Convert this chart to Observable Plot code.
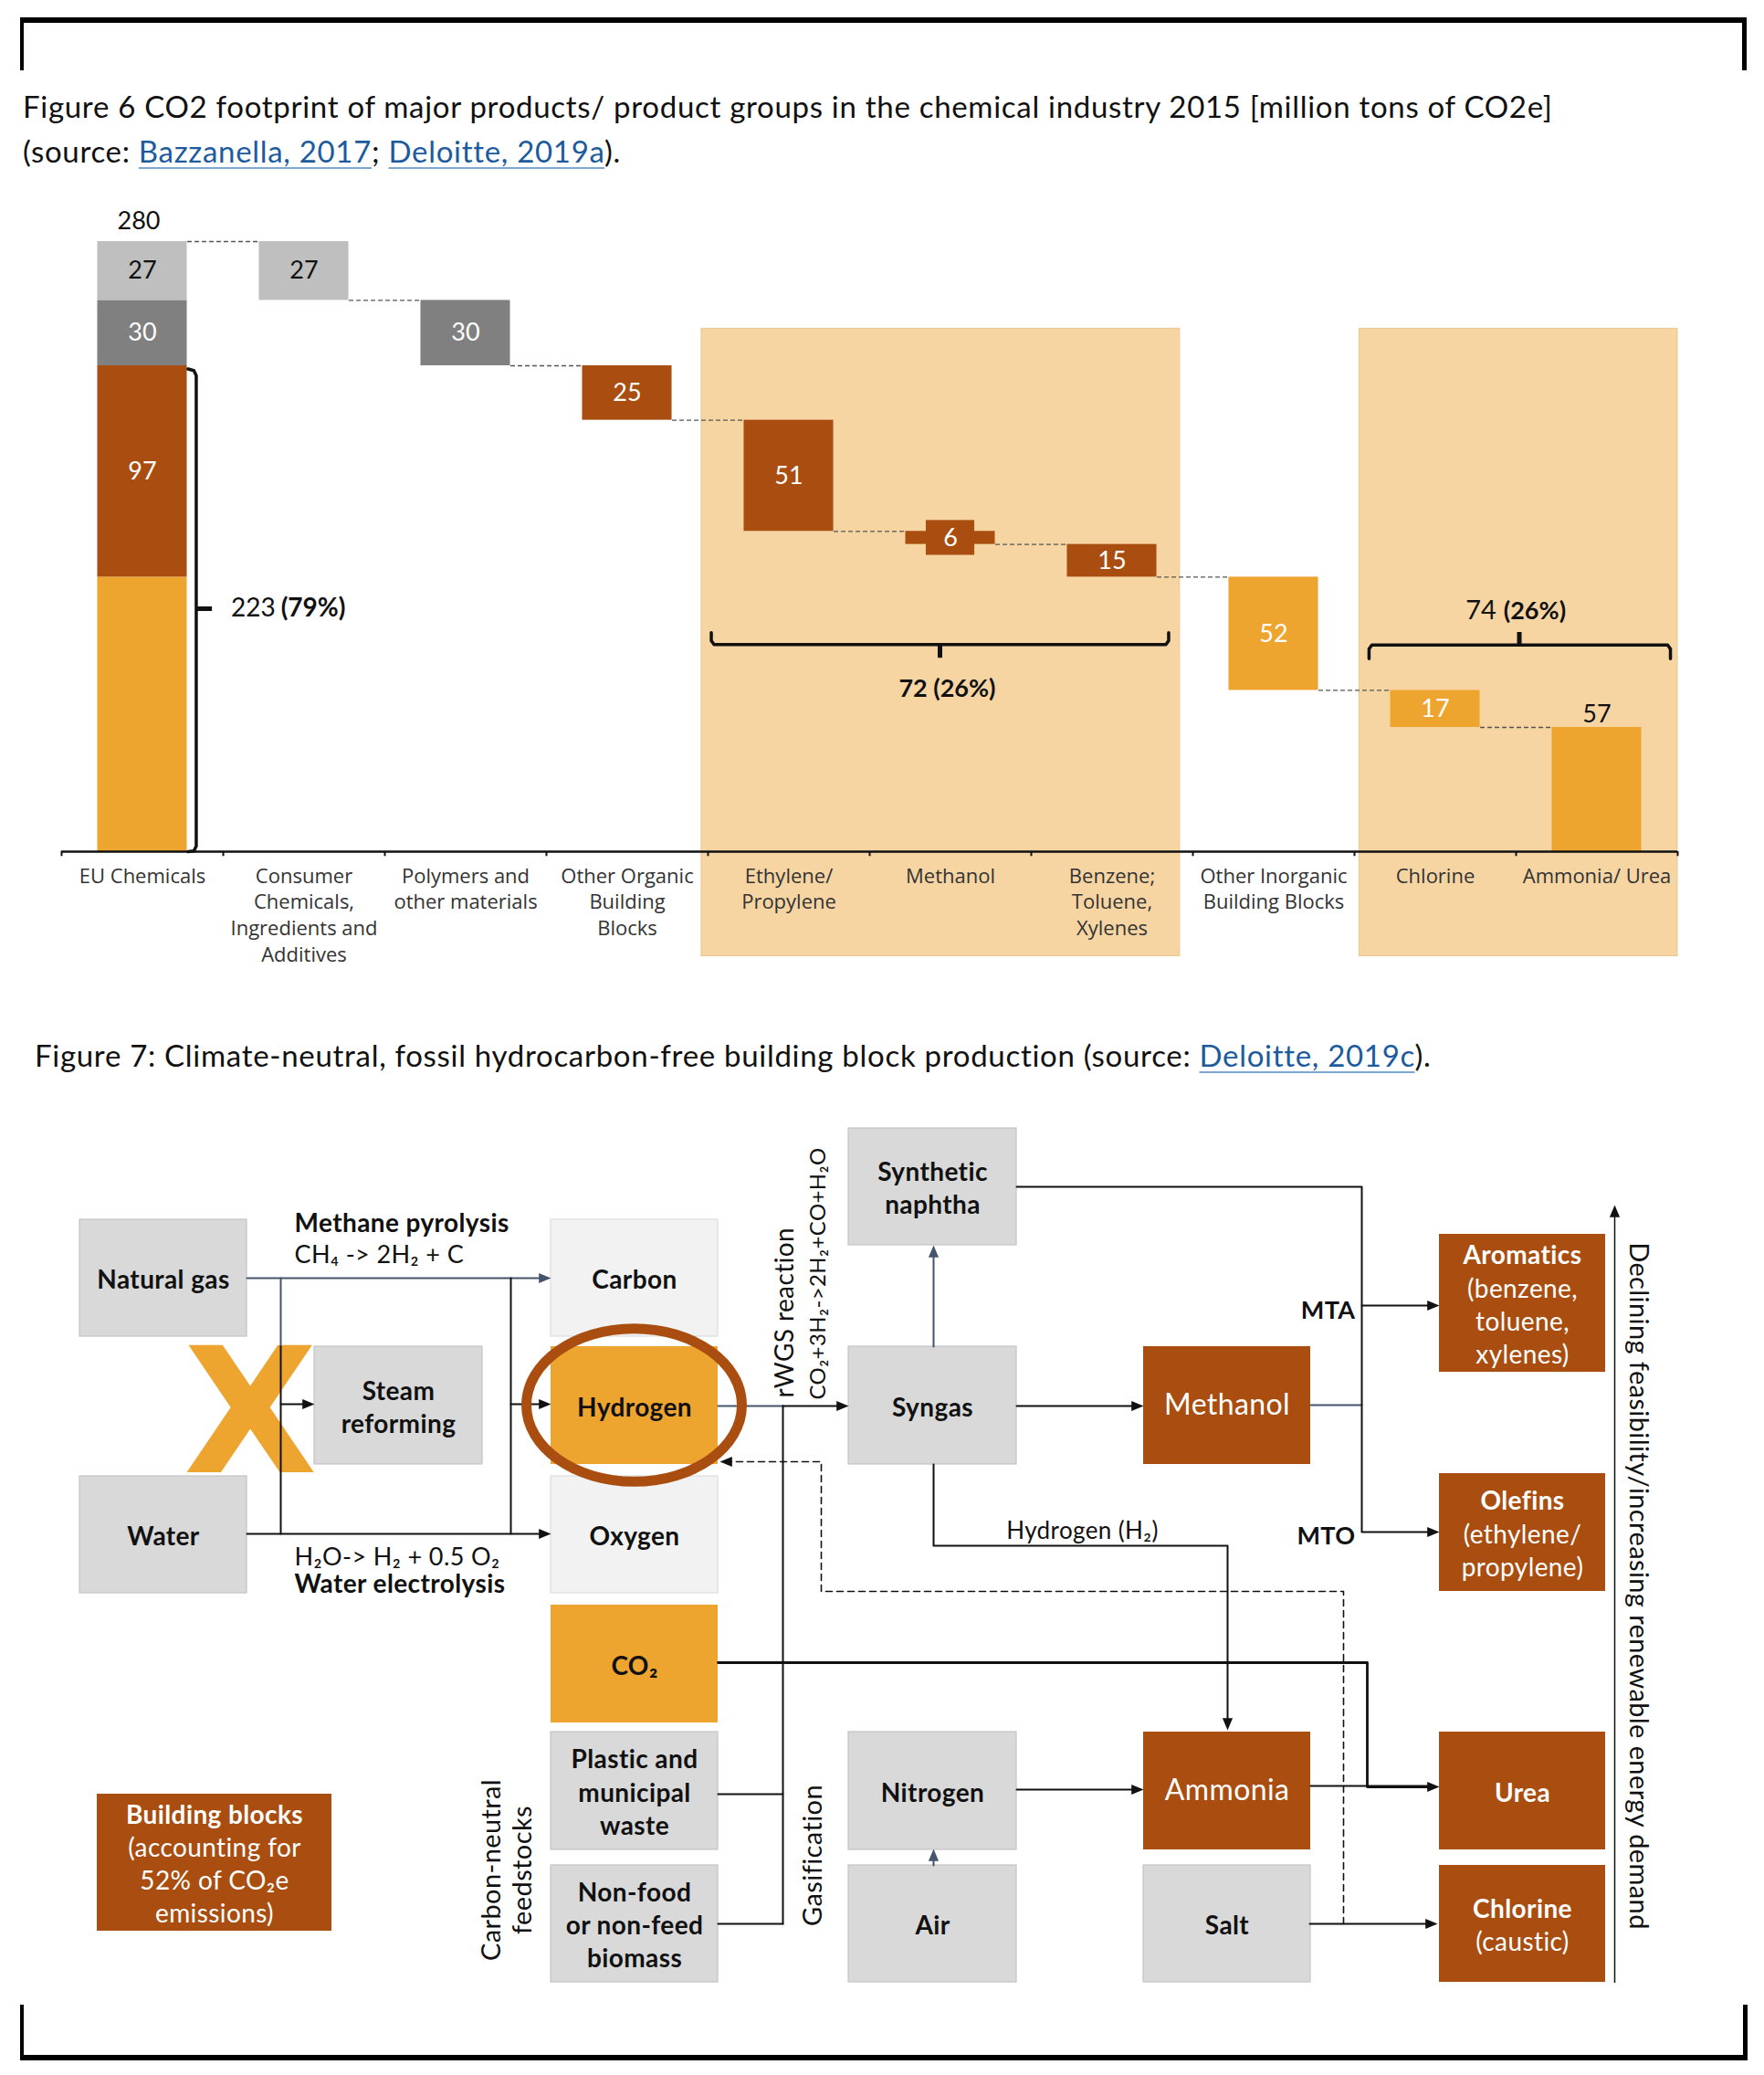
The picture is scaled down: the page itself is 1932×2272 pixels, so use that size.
<!DOCTYPE html>
<html><head><meta charset="utf-8">
<script src="https://cdn.jsdelivr.net/npm/d3@7"></script>
<script src="https://cdn.jsdelivr.net/npm/@observablehq/plot@0.6"></script>
<style>
body{margin:0;background:#fff;}
#page{position:relative;width:1932px;height:2272px;background:#fff;overflow:hidden;}
.bar{position:absolute;background:#000;}
.title{position:absolute;font-family:Lato,'Open Sans',sans-serif;font-size:33px;letter-spacing:0.7px;line-height:49px;color:#111;white-space:nowrap;}
.title a{color:#1c5b9e;text-decoration:underline;text-decoration-color:#7ea6d3;text-underline-offset:5px;text-decoration-thickness:2px;}
.fig{position:absolute;left:0;}
</style></head>
<body><div id="page">
<div class="bar" style="left:22px;top:19px;width:1891px;height:6px"></div>
<div class="bar" style="left:22px;top:19px;width:4px;height:58px"></div>
<div class="bar" style="left:1908px;top:19px;width:5px;height:58px"></div>
<div class="bar" style="left:22px;top:2250px;width:1892px;height:6px"></div>
<div class="bar" style="left:22px;top:2195px;width:4px;height:61px"></div>
<div class="bar" style="left:1909px;top:2195px;width:5px;height:61px"></div>
<div class="title" style="left:25px;top:92px">Figure 6 CO2 footprint of major products/ product groups in the chemical industry 2015 [million tons of CO2e]<br>(source: <a>Bazzanella, 2017</a>; <a>Deloitte, 2019a</a>).</div>
<div id="fig6" class="fig" style="top:200px"></div>
<div class="title" style="left:38px;top:1131px">Figure 7: Climate-neutral, fossil hydrocarbon-free building block production (source: <a>Deloitte, 2019c</a>).</div>
<div id="fig7" class="fig" style="top:1200px"></div>
</div>
<script>
// ================= Figure 6 data =================
const categories = ["EU Chemicals", "Consumer\nChemicals,\nIngredients and\nAdditives", "Polymers and\nother materials",
  "Other Organic\nBuilding\nBlocks", "Ethylene/\nPropylene", "Methanol", "Benzene;\nToluene,\nXylenes",
  "Other Inorganic\nBuilding Blocks", "Chlorine", "Ammonia/ Urea"];
const totalEmissions = 280;
const stepValues = [27, 30, 25, 51, 6, 15, 52, 17, 57];
const stepGroups = ["consumer", "polymers", "organic", "organic", "organic", "organic", "inorganic", "inorganic", "inorganic"];
const euGroups = ["inorganic", "organic", "polymers", "consumer"];
const euValues = [126, 97, 30, 27];
const euShowLabel = [false, true, true, true];
const highlightFrom = [4, 8];
const highlightTo = [6, 9];
const bracketTotals = [223, 72, 74];
const bracketShares = ["(79%)", "(26%)", "(26%)"];

const BROWN = "#A94E10", ORANGE = "#EEA530", LGRAY = "#BFBFBF", DGRAY = "#808080", PEACH = "#F6D5A3";
const groupColors = {consumer: LGRAY, polymers: DGRAY, organic: BROWN, inorganic: ORANGE};
const groupTextColors = {consumer: "#111", polymers: "#fff", organic: "#fff", inorganic: "#fff"};

const half = 0.277;
const spanPad = [[0.54, 0.42], [0.47, 0.5]];
const bars = [];
let acc = 0;
euValues.forEach((v, i) => { bars.push({x: 0, group: euGroups[i], y1: acc, y2: acc + v, value: v, show: euShowLabel[i], above: false}); acc += v; });
let level = totalEmissions;
stepValues.forEach((v, i) => { bars.push({x: i + 1, group: stepGroups[i], y1: level - v, y2: level, value: v, show: true, above: i === stepValues.length - 1}); level -= v; });
const steps = bars.filter(d => d.x > 0);
const connectors = steps.map(d => ({x1: d.x - 1 + half, x2: d.x - half, y: d.y2}));
const smallBars = steps.filter(d => d.value < 10);
const spans = highlightFrom.map((f, i) => ({x1: f - spanPad[i][0], x2: highlightTo[i] + spanPad[i][1]}));

const bracketPaths = [];
const addPath = (id, pts) => pts.forEach(([x, y]) => bracketPaths.push({id, x, y}));
const b0 = bracketTotals[0];
addPath("left", [[0.282, b0 - 1.5], [0.318, b0 - 2.2], [0.333, b0 - 4.5], [0.333, 2.5], [0.318, 0.3], [0.282, 0]]);
addPath("b1", [[3.52, 100.5], [3.52, 96.8], [3.537, 95], [6.333, 95], [6.35, 96.8], [6.35, 100.5]]);
addPath("b2", [[7.59, 88.5], [7.59, 93], [7.607, 94.8], [9.438, 94.8], [9.455, 93], [9.455, 88.5]]);
const nubPaths = [];
const addNub = (id, pts) => pts.forEach(([x, y]) => nubPaths.push({id, x, y}));
addNub("n0", [[0.333, b0 / 2], [0.43, b0 / 2]]);
addNub("n1", [[4.935, 95], [4.935, 89]]);
addNub("n2", [[8.52, 94.8], [8.52, 100.8]]);

const boundaries = d3.range(categories.length + 1).map(i => i - 0.5);
const LATO = "Lato, 'Open Sans', sans-serif";

const fig6 = Plot.plot({
  width: 1932, height: 880, marginLeft: 67, marginRight: 95, marginTop: 64, marginBottom: 148,
  x: {domain: [-0.5, 9.5], axis: null},
  y: {domain: [0, 280], axis: null},
  color: {type: "identity"},
  style: {fontFamily: LATO, background: "transparent", overflow: "visible"},
  marks: [
    Plot.rect(spans, {x1: "x1", x2: "x2", y1: () => -48, y2: () => 240, fill: PEACH, stroke: "#EAC791", strokeWidth: 1}),
    Plot.link(connectors, {x1: "x1", x2: "x2", y1: "y", y2: "y", stroke: "#555", strokeWidth: 1.3, strokeDasharray: "5,3"}),
    Plot.rect(bars, {x1: d => d.x - half, x2: d => d.x + half, y1: "y1", y2: "y2", fill: d => groupColors[d.group]}),
    Plot.rect(smallBars, {x1: d => d.x - 0.15, x2: d => d.x + 0.15, y1: d => (d.y1 + d.y2) / 2 - 8, y2: d => (d.y1 + d.y2) / 2 + 8, fill: d => groupColors[d.group]}),
    Plot.ruleY([0], {stroke: "#111", strokeWidth: 2.5}),
    Plot.ruleX(boundaries, {x: d => d, y1: () => 0, y2: () => -2.2, stroke: "#111", strokeWidth: 2}),
    Plot.line(bracketPaths, {x: "x", y: "y", z: "id", stroke: "#111", strokeWidth: 3.5, strokeLinejoin: "round", strokeLinecap: "round"}),
    Plot.line(nubPaths, {x: "x", y: "y", z: "id", stroke: "#111", strokeWidth: 5, strokeLinecap: "butt"}),
    Plot.text(bars.filter(d => d.show && !d.above), {x: "x", y: d => (d.y1 + d.y2) / 2, text: d => String(d.value), fill: d => groupTextColors[d.group], fontSize: 27}),
    Plot.text(bars.filter(d => d.above), {x: "x", y: "y2", text: d => String(d.value), dy: -14, fill: "#111", fontSize: 27}),
    Plot.text([{x: 0, v: totalEmissions}], {x: "x", y: "v", text: d => String(d.v), dy: -22, dx: -4, fill: "#111", fontSize: 27}),
    Plot.text(categories, {x: (d, i) => i, y: () => 0, text: d => d, lineAnchor: "top", dy: 14, fontSize: 22, lineHeight: 1.3, fill: "#333", fontFamily: "'Open Sans', sans-serif"}),
    // bracket labels
    Plot.text([{x: 0.84, y: b0 / 2, t: String(bracketTotals[0])}], {x: "x", y: "y", text: "t", textAnchor: "end", dx: -3, fontSize: 28, fill: "#111"}),
    Plot.text([{x: 0.84, y: b0 / 2, t: bracketShares[0]}], {x: "x", y: "y", text: "t", textAnchor: "start", dx: 3, fontSize: 28, fontWeight: "bold", fill: "#111"}),
    Plot.text([{x: 4.98, y: 74.6, t: bracketTotals[1] + " " + bracketShares[1]}], {x: "x", y: "y", text: "t", fontSize: 27, fontWeight: "bold", fill: "#111"}),
    Plot.text([{x: 8.40, y: 110.5, t: String(bracketTotals[2])}], {x: "x", y: "y", text: "t", textAnchor: "end", dx: -4, fontSize: 29, fill: "#111"}),
    Plot.text([{x: 8.40, y: 110.5, t: bracketShares[2]}], {x: "x", y: "y", text: "t", textAnchor: "start", dx: 4, fontSize: 27, fontWeight: "bold", fill: "#111"})
  ]
});
document.getElementById("fig6").appendChild(fig6);

// ================= Figure 7 data =================
const nodeLabels = ["Natural gas", "Water", "Steam\nreforming", "Carbon", "Hydrogen", "Oxygen", "CO\u2082",
  "Plastic and\nmunicipal\nwaste", "Non-food\nor non-feed\nbiomass", "Synthetic\nnaphtha", "Syngas", "Nitrogen", "Air",
  "Methanol", "Ammonia", "Salt", "Aromatics", "Olefins", "Urea", "Chlorine"];
const nodeSubLabels = ["", "", "", "", "", "", "", "", "", "", "", "", "", "", "", "",
  "(benzene,\ntoluene,\nxylenes)", "(ethylene/\npropylene)", "", "(caustic)"];
const nodeColumns = ["A", "A", "B", "C", "C", "C", "C", "C", "C", "D", "D", "D", "D", "E", "E", "E", "F", "F", "F", "F"];
const nodeRows = ["r1", "r3", "r2", "r1", "r2", "r3", "r4", "r5", "r6", "r0", "r2", "r5", "r6", "r2", "r5", "r6", "ar", "ol", "r5", "r6"];
const nodeKinds = ["gray", "gray", "gray", "light", "orange", "light", "orange", "gray", "gray", "gray", "gray", "gray", "gray",
  "brown", "brown", "gray", "product", "product", "product", "product"];
const columnSpan = {A: [87, 270], B: [344, 528], C: [603, 786], D: [929, 1113], E: [1252, 1435], F: [1576, 1758]};
const rowSpan = {r0: [1235, 1363], r1: [1335, 1463], r2: [1474, 1603], r3: [1616, 1744], r4: [1757, 1886],
  r5: [1896, 2025], r6: [2042, 2170], ar: [1351, 1502], ol: [1613, 1742]};
const legendTitle = "Building blocks";
const legendText = "(accounting for\n52% of CO\u2082e\nemissions)";
const legendSpan = {x: [106, 363], y: [1964, 2114]};

const kindFill = {gray: "#D9D9D9", light: "#F2F2F2", orange: ORANGE, brown: BROWN, product: BROWN};
const kindStroke = {gray: "#C4C4C4", light: "#DDDDDD", orange: "none", brown: "none", product: "none"};

const nodes = nodeLabels.map((label, i) => {
  const [x1, x2] = columnSpan[nodeColumns[i]], [y1, y2] = rowSpan[nodeRows[i]];
  return {label, sub: nodeSubLabels[i], kind: nodeKinds[i], x1, x2, y1, y2, cx: (x1 + x2) / 2, cy: (y1 + y2) / 2};
});
nodes.push({label: legendTitle, sub: legendText, kind: "product", x1: legendSpan.x[0], x2: legendSpan.x[1], y1: legendSpan.y[0], y2: legendSpan.y[1],
  cx: (legendSpan.x[0] + legendSpan.x[1]) / 2, cy: (legendSpan.y[0] + legendSpan.y[1]) / 2});
const NB = "\u00a0";
const withTitle = d => d.label + ("\n" + NB).repeat(d.sub ? d.sub.split("\n").length : 0);
const withSub = d => NB + "\n" + d.sub;

// connections (diagram coordinates)
const SLATE = "#44546A", INK = "#111";
const connections = [
  {id: 1, style: "slate", pts: [[270, 1399], [594, 1399]]},
  {id: 2, style: "slate", pts: [[307, 1399], [307, 1474]]},
  {id: 3, style: "black", pts: [[307, 1474], [307, 1679]]},
  {id: 4, style: "black", pts: [[307, 1537], [336, 1537]]},
  {id: 5, style: "black", pts: [[270, 1679], [594, 1679]]},
  {id: 6, style: "black", pts: [[559, 1399], [559, 1679]]},
  {id: 7, style: "black", pts: [[559, 1537], [594, 1537]]},
  {id: 8, style: "slate", pts: [[786, 1539], [857, 1539]]},
  {id: 9, style: "black", pts: [[857, 1539], [920, 1539]]},
  {id: 10, style: "black", pts: [[857, 1539], [857, 2106]]},
  {id: 11, style: "black", pts: [[786, 1964], [857, 1964]]},
  {id: 12, style: "black", pts: [[786, 2106], [857, 2106]]},
  {id: 13, style: "thick", pts: [[786, 1820], [1497, 1820], [1497, 1956], [1567, 1956]]},
  {id: 14, style: "slate", pts: [[1022, 1474], [1022, 1371]]},
  {id: 15, style: "black", pts: [[1113, 1539], [1243, 1539]]},
  {id: 16, style: "black", pts: [[1113, 1299], [1491, 1299], [1491, 1677], [1567, 1677]]},
  {id: 17, style: "black", pts: [[1491, 1429], [1567, 1429]]},
  {id: 18, style: "slate", pts: [[1435, 1538], [1491, 1538]]},
  {id: 19, style: "black", pts: [[1022, 1603], [1022, 1692], [1344, 1692], [1344, 1885]]},
  {id: 20, style: "black", pts: [[1113, 1959], [1243, 1959]]},
  {id: 21, style: "black", pts: [[1435, 1955], [1567, 1955]]},
  {id: 22, style: "slate", pts: [[1022, 2042], [1022, 2032]]},
  {id: 23, style: "black", pts: [[1434, 2106], [1565, 2106]]},
  {id: 24, style: "dashed", pts: [[1471, 2106], [1471, 1742], [899, 1742], [899, 1600], [797, 1600]]},
  {id: 25, style: "thin", pts: [[1768, 2170], [1768, 1328]]}
];
const arrowTips = [
  {x: 603, y: 1399, dir: 0, style: "slate"}, {x: 344, y: 1537, dir: 0, style: "black"}, {x: 603, y: 1679, dir: 0, style: "black"},
  {x: 603, y: 1537, dir: 0, style: "black"}, {x: 929, y: 1539, dir: 0, style: "black"}, {x: 1022, y: 1363, dir: -90, style: "slate"},
  {x: 1252, y: 1539, dir: 0, style: "black"}, {x: 1576, y: 1429, dir: 0, style: "black"}, {x: 1576, y: 1677, dir: 0, style: "black"},
  {x: 1344, y: 1894, dir: 90, style: "black"}, {x: 1252, y: 1959, dir: 0, style: "black"}, {x: 1576, y: 1956, dir: 0, style: "black"},
  {x: 1022, y: 2024, dir: -90, style: "slate"}, {x: 1574, y: 2106, dir: 0, style: "black"}, {x: 788, y: 1600, dir: 180, style: "black"},
  {x: 1768, y: 1319, dir: -90, style: "black"}
];
const flowNotes = [
  {t: "Methane pyrolysis", x: 322, y: 1340, bold: true, anchor: "start"},
  {t: "CH\u2084 -> 2H\u2082 + C", x: 322, y: 1374, bold: false, anchor: "start"},
  {t: "H\u2082O-> H\u2082 + 0.5 O\u2082", x: 322, y: 1705, bold: false, anchor: "start"},
  {t: "Water electrolysis", x: 322, y: 1735, bold: true, anchor: "start"},
  {t: "MTA", x: 1484, y: 1435, bold: true, anchor: "end"},
  {t: "MTO", x: 1484, y: 1682, bold: true, anchor: "end"},
  {t: "Hydrogen (H\u2082)", x: 1185, y: 1676, bold: false, anchor: "middle"}
];
const sideNotes = [
  {t: "Carbon-neutral\nfeedstocks", x: 554, y: 2047, rotate: -90},
  {t: "Gasification", x: 889, y: 2031, rotate: -90},
  {t: "Declining feasibility/increasing renewable energy demand", x: 1794, y: 1736, rotate: 90}
];
const reactionNotes = [
  {t: "rWGS reaction", x: 860, y: 1530, size: 27},
  {t: "CO\u2082+3H\u2082->2H\u2082+CO+H\u2082O", x: 896, y: 1532, size: 23}
];
const focusNode = {x: 694, y: 1538};
const crossMark = {x: 274, y: 1551, t: "X"};

const flat = style => connections.filter(c => c.style === style).flatMap(c => c.pts.map(([x, y]) => ({id: c.id, x, y})));
const arrowSymbol = {draw(ctx, size) { const r = Math.sqrt(size / Math.PI); ctx.moveTo(0, 0); ctx.lineTo(-1.9 * r, -0.8 * r); ctx.lineTo(-1.9 * r, 0.8 * r); ctx.closePath(); }};
const ellipseSymbol = {draw(ctx, size) {
  const rx = Math.sqrt(size / Math.PI), ry = rx * 0.71, k = 0.5523;
  ctx.moveTo(rx, 0);
  ctx.bezierCurveTo(rx, ry * k, rx * k, ry, 0, ry);
  ctx.bezierCurveTo(-rx * k, ry, -rx, ry * k, -rx, 0);
  ctx.bezierCurveTo(-rx, -ry * k, -rx * k, -ry, 0, -ry);
  ctx.bezierCurveTo(rx * k, -ry, rx, -ry * k, rx, 0);
  ctx.closePath();
}};

const plain = nodes.filter(d => d.kind === "gray" || d.kind === "light" || d.kind === "orange");
const bigBrown = nodes.filter(d => d.kind === "brown");
const products = nodes.filter(d => d.kind === "product");

const fig7 = Plot.plot({
  width: 1932, height: 1000, marginLeft: 0, marginRight: 0, marginTop: 0, marginBottom: 0,
  x: {domain: [0, 1932], axis: null},
  y: {domain: [2200, 1200], axis: null},
  color: {type: "identity"},
  style: {fontFamily: LATO, background: "transparent", overflow: "visible", letterSpacing: "0.4px"},
  marks: [
    Plot.text([crossMark], {x: "x", y: "y", text: "t", fontSize: 190, fontWeight: "bold", fontFamily: "'DejaVu Sans', sans-serif", fill: ORANGE}),
    Plot.rect(nodes, {x1: "x1", x2: "x2", y1: "y1", y2: "y2", fill: d => kindFill[d.kind], stroke: d => kindStroke[d.kind], strokeWidth: 1.2}),
    Plot.line(flat("slate"), {x: "x", y: "y", z: "id", stroke: SLATE, strokeWidth: 2}),
    Plot.line(flat("black"), {x: "x", y: "y", z: "id", stroke: INK, strokeWidth: 2}),
    Plot.line(flat("thick"), {x: "x", y: "y", z: "id", stroke: INK, strokeWidth: 2.8}),
    Plot.line(flat("thin"), {x: "x", y: "y", z: "id", stroke: INK, strokeWidth: 1.5}),
    Plot.line(flat("dashed"), {x: "x", y: "y", z: "id", stroke: INK, strokeWidth: 1.6, strokeDasharray: "7,5"}),
    Plot.dot([focusNode], {x: "x", y: "y", r: 118, symbol: ellipseSymbol, fill: "none", stroke: BROWN, strokeWidth: 11}),
    Plot.dot(arrowTips, {x: "x", y: "y", r: 7, rotate: "dir", symbol: arrowSymbol, fill: d => d.style === "slate" ? SLATE : INK, stroke: "none"}),
    Plot.text(plain, {x: "cx", y: "cy", text: "label", fontSize: 28, fontWeight: "bold", fill: "#111", lineHeight: 1.29}),
    Plot.text(bigBrown, {x: "cx", y: "cy", text: "label", fontSize: 32, fill: "#fff"}),
    Plot.text(products, {x: "cx", y: "cy", text: withTitle, fontSize: 28, fontWeight: "bold", fill: "#fff", lineHeight: 1.29}),
    Plot.text(products.filter(d => d.sub), {x: "cx", y: "cy", text: withSub, fontSize: 28, fill: "#fff", lineHeight: 1.29}),
    Plot.text(flowNotes.filter(d => d.anchor === "start" && d.bold), {x: "x", y: "y", text: "t", textAnchor: "start", fontSize: 28, fontWeight: "bold", fill: "#111"}),
    Plot.text(flowNotes.filter(d => d.anchor === "start" && !d.bold), {x: "x", y: "y", text: "t", textAnchor: "start", fontSize: 27, fill: "#111"}),
    Plot.text(flowNotes.filter(d => d.anchor === "end"), {x: "x", y: "y", text: "t", textAnchor: "end", fontSize: 27, fontWeight: "bold", fill: "#111"}),
    Plot.text(flowNotes.filter(d => d.anchor === "middle"), {x: "x", y: "y", text: "t", fontSize: 26, fill: "#111"}),
    Plot.text(sideNotes.filter(d => d.rotate < 0), {x: "x", y: "y", text: "t", rotate: -90, fontSize: 29, lineHeight: 1.17, fill: "#111"}),
    Plot.text(sideNotes.filter(d => d.rotate > 0), {x: "x", y: "y", text: "t", rotate: 90, fontSize: 29, fill: "#111"}),
    Plot.text(reactionNotes.slice(0, 1), {x: "x", y: "y", text: "t", rotate: -90, textAnchor: "start", fontSize: 28, fill: "#111"}),
    Plot.text(reactionNotes.slice(1), {x: "x", y: "y", text: "t", rotate: -90, textAnchor: "start", fontSize: 24, fill: "#111"})
  ]
});
document.getElementById("fig7").appendChild(fig7);
</script>
</body></html>
